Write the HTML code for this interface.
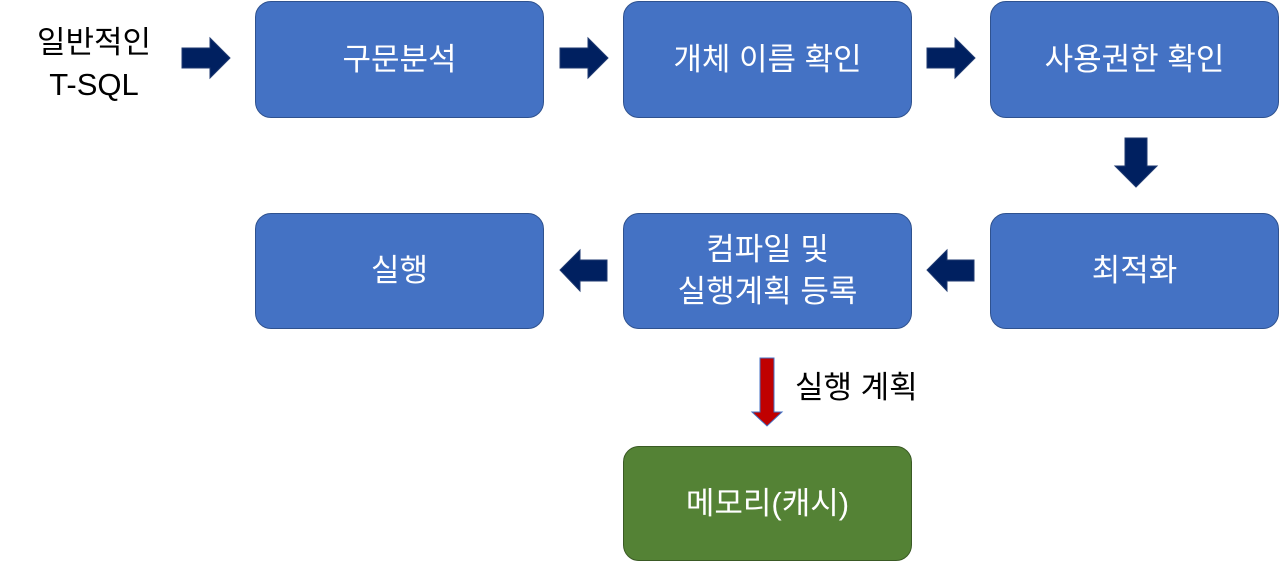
<!DOCTYPE html>
<html><head><meta charset="utf-8"><style>
body{margin:0;width:1280px;height:562px;background:#fff;position:relative;overflow:hidden;font-family:"Liberation Sans","Noto Sans CJK KR","NanumGothic",sans-serif}
.b{position:absolute;width:286px;height:114px;background:#4472C4;border:1.5px solid #2F528F;border-radius:16px;color:#fff;font-size:31px;display:flex;align-items:center;justify-content:center;text-align:center;line-height:42px;box-sizing:border-box}
.t{position:absolute;font-size:31px;color:#000;line-height:42px}
svg{position:absolute;left:0;top:0}
</style></head><body>
<div class="t" style="left:24px;top:22px;text-align:center;width:140px">일반적인<br>T-SQL</div>
<div class="b" style="left:255px;top:1px;height:117px;width:289px">구문분석</div>
<div class="b" style="left:623px;top:1px;height:117px;width:289px">개체 이름 확인</div>
<div class="b" style="left:990px;top:1px;height:117px;width:289px">사용권한 확인</div>
<div class="b" style="left:255px;top:213px;height:116px;width:289px">실행</div>
<div class="b" style="left:623px;top:213px;height:116px;width:289px">컴파일 및<br>실행계획 등록</div>
<div class="b" style="left:990px;top:213px;height:116px;width:289px">최적화</div>
<div class="b" style="left:623px;top:446px;height:115px;width:289px;background:#548235;border-color:#3A5A24">메모리(캐시)</div>
<div class="t" style="left:795px;top:367px">실행 계획</div>
<svg width="1280" height="562">
<g fill="#002060" stroke="#1F3A70" stroke-width="1">
<polygon points="182,48 210,48 210,38 230,58 210,78 210,68 182,68"/>
<polygon points="560,48 588,48 588,38 608,58 588,78 588,68 560,68"/>
<polygon points="927,48 955,48 955,38 975,58 955,78 955,68 927,68"/>
<polygon points="1125,138 1147,138 1147,166 1157,166 1136,187 1115,166 1125,166"/>
<polygon points="974,260 947,260 947,250 927,270 947,291 947,281 974,281"/>
<polygon points="607,260 580,260 580,250 560,270 580,291 580,281 607,281"/>
</g>
<polygon points="760,358 774,358 774,412 782,412 767,426 752,412 760,412" fill="#C00000" stroke="#4472C4" stroke-width="1"/>
</svg>
</body></html>
